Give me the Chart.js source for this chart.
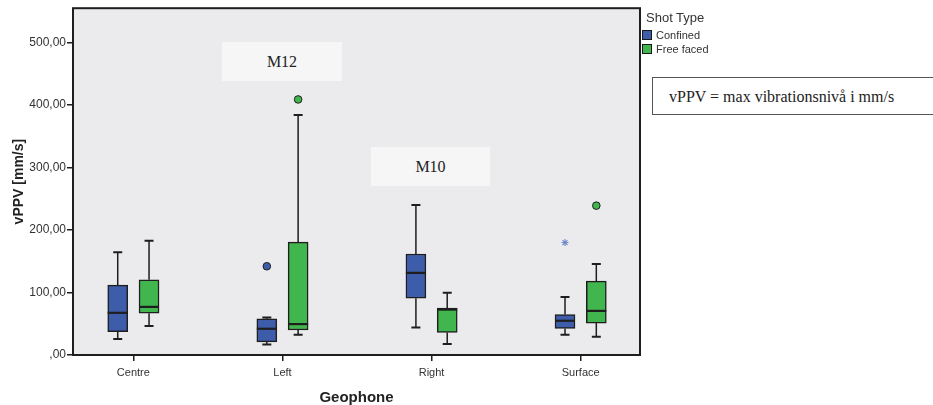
<!DOCTYPE html>
<html>
<head>
<meta charset="utf-8">
<script src="https://cdn.jsdelivr.net/npm/chart.js@4.4.1/dist/chart.umd.min.js"></script>
<style>
  body { margin: 0; background: #fff; }
  #wrap { position: relative; width: 933px; height: 405px; overflow: hidden; font-family: "Liberation Sans", Arial, sans-serif; }
  canvas { position: absolute; left: 0; top: 0; }
  .note { position: absolute; background: #f6f6f6; font-family: "Liberation Serif", "Times New Roman", serif; font-size: 16px; color: #222; display: flex; align-items: center; justify-content: center; }
  #legend { position: absolute; left: 642px; top: 9px; color: #333; }
  #legend .title { font-size: 13px; margin-left: 4px; line-height: 18px; }
  #legend .item { display: flex; align-items: center; font-size: 11px; height: 13px; margin-top: 1px; }
  #legend .sw { width: 8px; height: 8px; border: 1px solid #1a1a1a; margin-right: 4px; }
  #def { position: absolute; left: 652px; top: 77px; width: 290px; height: 38px; border: 1px solid #555; background: #fff;
         font-family: "Liberation Serif", "Times New Roman", serif; font-size: 16px; color: #222; line-height: 38px; padding-left: 16px; box-sizing: border-box; }
</style>
</head>
<body>
<div id="wrap">
  <canvas id="c" width="933" height="405"></canvas>
  <div class="note" style="left:222px;top:42px;width:120px;height:39px;">M12</div>
  <div class="note" style="left:371px;top:147px;width:119px;height:39px;">M10</div>
  <div id="legend">
    <div class="title">Shot Type</div>
    <div class="item"><span class="sw" style="background:#3d5dab"></span>Confined</div>
    <div class="item"><span class="sw" style="background:#41b54e"></span>Free faced</div>
  </div>
  <div id="def">vPPV = max vibrationsnivå i mm/s</div>
</div>
<script>
// Geophone positions on the x axis
const geophones = ['Centre', 'Left', 'Right', 'Surface'];

// Confined shots: five-number summaries per geophone (mm/s)
const confinedMin    = [25.7, 16.7, 44.0, 32.5];
const confinedQ1     = [37.3, 21.0, 90.8, 42.5];
const confinedMedian = [67.5, 42.0, 131.4, 54.8];
const confinedQ3     = [111.9, 58.0, 161.6, 64.8];
const confinedMax    = [164.3, 60.0, 240.0, 92.9];

// Free faced shots: five-number summaries per geophone (mm/s)
const freeMin    = [46.3, 32.5, 17.8, 29.4];
const freeQ1     = [67.0, 40.0, 36.2, 51.1];
const freeMedian = [77.0, 49.5, 72.7, 70.6];
const freeQ3     = [120.3, 180.6, 75.0, 118.3];
const freeMax    = [182.9, 384.0, 99.7, 145.7];

// Single observations outside the whiskers
const confinedOutlierGeophone = ['Left'];
const confinedOutlierValue    = [142];
const confinedExtremeGeophone = ['Surface'];
const confinedExtremeValue    = [180];
const freeOutlierGeophone     = ['Left', 'Surface'];
const freeOutlierValue        = [409, 239];

// Y axis tick values
const yTickValues = [0, 100, 200, 300, 400, 500];

const BLUE = '#3d5dab';
const GREEN = '#41b54e';
const INK = '#1e1e1e';
const SHIFT = 0.105; // side-by-side offset of the two shot types within a geophone

const series = [
  { label: 'Confined',   color: BLUE,  shift: -SHIFT, min: confinedMin, q1: confinedQ1, med: confinedMedian, q3: confinedQ3, max: confinedMax },
  { label: 'Free faced', color: GREEN, shift:  SHIFT, min: freeMin,     q1: freeQ1,     med: freeMedian,     q3: freeQ3,     max: freeMax }
];

const boxDatasets = series.map(s => ({
  type: 'bar',
  label: s.label,
  data: s.q1.map((v, i) => ({ x: i + s.shift, y: [v, s.q3[i]] })),
  backgroundColor: s.color,
  borderColor: INK,
  borderWidth: 1.5,
  borderSkipped: false,
  barThickness: 20,
  grouped: false,
  order: 2
}));

const pointsAt = (names, values, shift) => names.map((g, i) => ({ x: geophones.indexOf(g) + shift, y: values[i] }));

const outlierDatasets = [
  { type: 'scatter', label: 'Confined outliers', data: pointsAt(confinedOutlierGeophone, confinedOutlierValue, -SHIFT),
    pointStyle: 'circle', pointRadius: 3.8, backgroundColor: BLUE, borderColor: INK, borderWidth: 1, order: 1 },
  { type: 'scatter', label: 'Confined extremes', data: pointsAt(confinedExtremeGeophone, confinedExtremeValue, -SHIFT),
    pointStyle: 'star', pointRadius: 3.5, backgroundColor: '#6f8bd0', borderColor: '#6f8bd0', borderWidth: 1.1, order: 1 },
  { type: 'scatter', label: 'Free faced outliers', data: pointsAt(freeOutlierGeophone, freeOutlierValue, SHIFT),
    pointStyle: 'circle', pointRadius: 3.8, backgroundColor: GREEN, borderColor: INK, borderWidth: 1, order: 1 }
];

// Plot background, whiskers, medians and the frame around the plot
const boxplotPlugin = {
  id: 'boxplotParts',
  beforeDatasetsDraw(chart) {
    const { ctx, chartArea: a } = chart;
    ctx.save();
    ctx.fillStyle = '#ebebed';
    ctx.fillRect(a.left, a.top, a.right - a.left, a.bottom - a.top);
    ctx.restore();
  },
  afterDatasetsDraw(chart) {
    const { ctx, scales: { y } } = chart;
    ctx.save();
    ctx.strokeStyle = INK;
    series.forEach((s, di) => {
      const meta = chart.getDatasetMeta(di);
      meta.data.forEach((bar, i) => {
        const cx = bar.x;
        const half = bar.width / 2;
        const cap = 4.5;
        const yMin = y.getPixelForValue(s.min[i]);
        const yQ1 = y.getPixelForValue(s.q1[i]);
        const yQ3 = y.getPixelForValue(s.q3[i]);
        const yMax = y.getPixelForValue(s.max[i]);
        const yMed = y.getPixelForValue(s.med[i]);
        ctx.lineWidth = 1.5;
        ctx.beginPath();
        ctx.moveTo(cx, yQ3); ctx.lineTo(cx, yMax);
        ctx.moveTo(cx, yQ1); ctx.lineTo(cx, yMin);
        ctx.stroke();
        ctx.lineWidth = 2;
        ctx.beginPath();
        ctx.moveTo(cx - cap, yMax); ctx.lineTo(cx + cap, yMax);
        ctx.moveTo(cx - cap, yMin); ctx.lineTo(cx + cap, yMin);
        ctx.stroke();
        ctx.lineWidth = 2.2;
        ctx.beginPath();
        ctx.moveTo(cx - half, yMed); ctx.lineTo(cx + half, yMed);
        ctx.stroke();
      });
    });
    ctx.restore();
  },
  afterDraw(chart) {
    const { ctx, chartArea: a } = chart;
    ctx.save();
    ctx.strokeStyle = INK;
    ctx.lineWidth = 2;
    ctx.strokeRect(a.left, a.top, a.right - a.left, a.bottom - a.top);
    ctx.restore();
  }
};

const fontFamily = '"Liberation Sans", Arial, sans-serif';

new Chart(document.getElementById('c'), {
  type: 'bar',
  data: { datasets: [...boxDatasets, ...outlierDatasets] },
  options: {
    responsive: false,
    animation: false,
    devicePixelRatio: 1,
    layout: { padding: { top: 5, right: 293, left: 0, bottom: 0 } },
    plugins: { legend: { display: false }, tooltip: { enabled: false } },
    scales: {
      x: {
        type: 'linear',
        offset: false,
        min: -0.405,
        max: 3.398,
        afterFit: s => { s.height = 50; },
        afterBuildTicks: s => { s.ticks = geophones.map((g, i) => ({ value: i })); },
        border: { display: false },
        grid: { offset: false, drawOnChartArea: false, drawTicks: true, tickLength: 6, color: INK, lineWidth: 1.5 },
        ticks: {
          padding: 5, color: '#333', font: { family: fontFamily, size: 11 },
          callback: v => geophones[v]
        },
        title: { display: true, text: 'Geophone', color: '#222', padding: { top: 0, bottom: 0 },
                 font: { family: fontFamily, size: 15, weight: 'bold', lineHeight: 1 } }
      },
      y: {
        min: 0,
        max: 555,
        afterFit: s => { s.width = 73; },
        afterBuildTicks: s => { s.ticks = yTickValues.map(v => ({ value: v })); },
        border: { display: false },
        grid: { drawOnChartArea: false, drawTicks: true, tickLength: 6, color: INK, lineWidth: 1.5 },
        ticks: {
          padding: 1, color: '#333', font: { family: fontFamily, size: 12 },
          callback: v => v === 0 ? ',00' : v.toFixed(2).replace('.', ',')
        },
        title: { display: true, text: 'vPPV [mm/s]', color: '#222', padding: { top: 11, bottom: 0 },
                 font: { family: fontFamily, size: 14, weight: 'bold' } }
      }
    }
  },
  plugins: [boxplotPlugin]
});
</script>
</body>
</html>
